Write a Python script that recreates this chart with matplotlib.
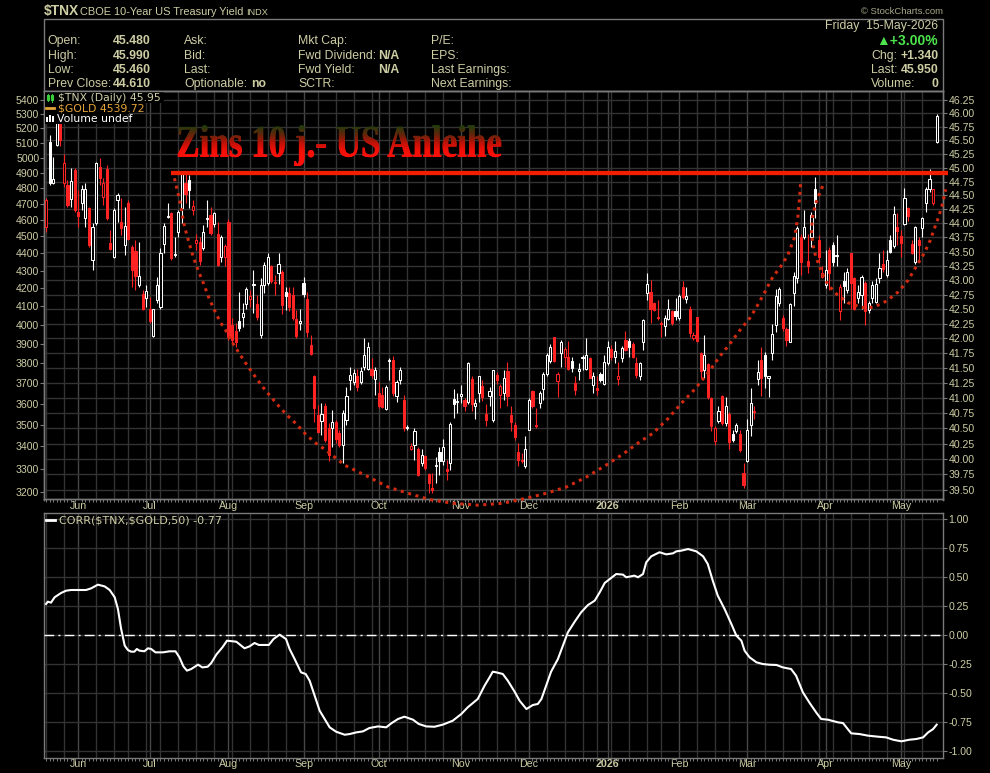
import numpy as np
import pandas as pd
import matplotlib
matplotlib.use("Agg")
import matplotlib.pyplot as plt
from matplotlib.patches import Rectangle, PathPatch
from matplotlib.lines import Line2D
from matplotlib.textpath import TextPath
from matplotlib.font_manager import FontProperties
from matplotlib.transforms import Affine2D
from matplotlib.ticker import NullLocator

plt.rcParams['font.family'] = ['Liberation Sans', 'DejaVu Sans']

# ---------------- data ----------------
holidays = ['2025-05-26', '2025-06-19', '2025-07-04', '2025-09-01', '2025-11-27',
            '2025-12-25', '2026-01-01', '2026-01-19', '2026-02-16', '2026-04-03']

opens = [43.94, 45.48, 44.73, 45.42, 45.82, 44.72, 44.69, 44.43, 44.96, 44.21,
         44.36, 44.09, 44.27, 43.35, 44.00, 45.02, 44.48, 44.98, 43.65, 43.41,
         44.42, 44.03, 43.61, 44.37, 43.58, 43.51, 42.92, 42.76, 42.70, 42.51,
         42.04, 42.66, 42.54, 43.63, 44.11, 44.18, 43.44, 43.85, 44.27, 44.73,
         44.77, 44.23, 43.66, 43.67, 43.56, 44.07, 44.15, 43.98, 43.81, 43.41,
         43.41, 44.02, 42.23, 42.12, 42.30, 42.36, 42.59, 42.67, 42.91, 42.59,
         42.06, 42.92, 42.96, 43.24, 42.95, 43.13, 43.15, 42.80, 42.77, 42.74,
         42.33, 42.26, 42.96, 42.67, 41.89, 41.37, 40.72, 40.62, 40.87, 40.50,
         40.50, 40.60, 40.42, 40.23, 40.63, 41.30, 41.27, 41.36, 41.27, 41.52,
         41.49, 41.49, 41.31, 41.08, 41.05, 40.82, 41.62, 41.64, 41.03, 41.30,
         40.97, 40.50, 40.16, 40.23, 40.17, 39.93, 40.05, 39.76, 39.53, 39.88,
         40.12, 39.96, 39.84, 39.93, 40.98, 40.93, 41.04, 40.97, 40.94, 41.31,
         40.86, 41.09, 41.20, 40.74, 41.03, 40.64, 41.38, 41.05, 41.08, 41.45,
         40.72, 40.56, 40.12, 39.99, 39.88, 40.47, 41.11, 40.56, 40.91, 41.15,
         41.40, 41.62, 42.02, 41.29, 41.75, 41.68, 41.69, 41.62, 41.25, 41.45,
         41.66, 41.49, 41.66, 41.22, 41.16, 41.40, 41.24, 41.58, 41.82, 41.68,
         41.31, 41.66, 41.97, 41.96, 41.91, 41.58, 41.36, 41.93, 42.77, 42.80,
         42.60, 42.37, 42.27, 42.21, 42.33, 42.46, 42.47, 42.34, 42.88, 42.67,
         42.51, 42.00, 42.36, 41.75, 41.47, 41.57, 41.00, 40.30, 40.62, 41.03,
         40.58, 40.74, 40.41, 40.46, 40.41, 39.77, 39.96, 40.55, 40.77, 41.31,
         41.63, 41.72, 41.34, 41.76, 42.23, 42.61, 42.34, 42.16, 41.94, 42.78,
         43.03, 43.76, 43.76, 43.34, 43.76, 44.61, 43.71, 43.05, 42.92, 43.53,
         43.61, 43.42, 42.46, 42.98, 42.83, 43.47, 43.03, 42.69, 42.74, 42.96,
         42.48, 42.69, 42.63, 43.03, 43.29, 43.09, 43.70, 43.60, 43.93, 43.77,
         43.99, 44.27, 43.64, 43.32, 43.70, 43.91, 44.36, 44.61, 44.36, 45.48]

highs = [44.45, 45.60, 45.20, 45.90, 45.88, 45.26, 44.78, 44.99, 44.99, 44.60,
         44.69, 44.72, 44.30, 44.00, 45.11, 45.17, 44.81, 45.05, 43.88, 44.27,
         44.54, 44.45, 44.30, 44.42, 43.61, 43.70, 43.67, 42.83, 42.92, 42.71,
         42.51, 43.06, 43.56, 44.00, 44.36, 44.21, 43.76, 44.24, 44.95, 44.90,
         44.87, 44.42, 43.82, 43.76, 43.97, 44.42, 44.30, 44.21, 44.03, 43.79,
         43.64, 44.07, 42.34, 42.26, 42.80, 42.60, 42.89, 42.83, 43.18, 42.74,
         43.03, 43.32, 43.48, 43.27, 43.09, 43.47, 43.18, 42.89, 42.89, 42.89,
         42.48, 42.51, 43.05, 42.80, 42.06, 41.38, 40.89, 40.91, 40.91, 40.58,
         40.80, 40.64, 40.48, 40.80, 41.19, 41.52, 41.49, 41.49, 41.52, 42.00,
         41.93, 41.66, 41.52, 41.27, 41.19, 41.22, 41.66, 41.70, 41.30, 41.52,
         41.05, 40.55, 40.26, 40.50, 40.20, 40.16, 40.06, 39.78, 39.77, 40.04,
         40.20, 40.32, 39.98, 40.61, 41.15, 41.08, 41.22, 41.00, 41.60, 41.36,
         40.98, 41.37, 41.30, 40.90, 41.19, 41.47, 41.44, 41.24, 41.46, 41.60,
         40.86, 40.60, 40.26, 40.09, 40.37, 41.00, 41.14, 40.83, 41.12, 41.44,
         41.75, 41.91, 42.03, 41.44, 41.98, 41.86, 41.96, 41.69, 41.36, 41.58,
         41.72, 42.00, 41.69, 41.44, 41.36, 41.44, 41.72, 41.96, 41.89, 41.96,
         41.60, 41.87, 42.12, 42.00, 41.94, 41.69, 41.60, 42.33, 43.12, 43.00,
         42.63, 42.66, 42.29, 42.40, 42.68, 42.48, 42.70, 42.76, 42.98, 42.88,
         42.55, 42.10, 42.37, 41.77, 42.06, 41.59, 41.02, 40.53, 40.86, 41.05,
         41.02, 40.76, 40.47, 40.59, 40.47, 39.93, 40.66, 41.16, 40.86, 41.63,
         41.85, 41.77, 41.36, 42.25, 42.84, 42.89, 42.40, 42.19, 42.60, 43.15,
         43.95, 43.82, 44.24, 43.81, 44.21, 44.83, 43.79, 43.25, 43.53, 43.58,
         43.67, 43.79, 42.94, 43.15, 43.21, 43.48, 43.06, 42.92, 43.09, 42.98,
         42.64, 42.98, 43.03, 43.48, 43.53, 43.53, 43.79, 44.31, 44.19, 43.88,
         44.63, 44.30, 43.70, 43.95, 43.76, 44.12, 44.65, 44.97, 44.61, 45.99]

lows = [43.85, 44.69, 44.70, 45.40, 45.39, 44.66, 44.30, 44.30, 44.21, 43.94,
        44.24, 43.94, 43.58, 43.18, 43.97, 44.69, 44.33, 44.06, 43.53, 43.38,
        44.03, 43.79, 43.44, 43.70, 42.89, 42.83, 42.89, 42.48, 42.54, 42.26,
        42.03, 42.60, 42.51, 43.47, 44.09, 43.35, 43.41, 43.76, 44.00, 44.36,
        44.27, 44.15, 43.53, 43.27, 43.53, 43.94, 43.79, 43.94, 43.24, 43.31,
        43.24, 41.97, 41.91, 41.86, 42.12, 42.19, 42.51, 42.54, 42.44, 42.32,
        42.00, 42.77, 42.92, 42.95, 42.74, 42.94, 42.42, 42.48, 42.46, 42.32,
        42.00, 42.14, 42.71, 42.03, 41.72, 40.61, 40.42, 40.39, 40.28, 39.96,
        40.20, 40.26, 40.20, 39.93, 40.56, 41.14, 41.22, 41.11, 41.24, 41.46,
        41.46, 41.33, 41.05, 40.83, 40.83, 40.80, 41.30, 41.03, 40.94, 41.24,
        40.45, 40.48, 40.15, 39.98, 39.72, 39.88, 39.83, 39.45, 39.45, 39.61,
        39.74, 39.91, 39.66, 39.83, 40.67, 40.75, 40.91, 40.78, 40.90, 40.78,
        40.65, 40.94, 40.95, 40.54, 40.86, 40.61, 41.24, 40.83, 40.97, 40.86,
        40.45, 40.31, 39.88, 39.93, 39.85, 40.47, 40.83, 40.50, 40.83, 40.97,
        41.36, 41.58, 41.60, 41.02, 41.52, 41.52, 41.46, 41.44, 41.05, 41.30,
        41.46, 41.46, 41.33, 41.09, 41.05, 41.27, 41.22, 41.55, 41.63, 41.58,
        41.22, 41.60, 41.78, 41.69, 41.66, 41.33, 41.30, 41.80, 42.66, 42.26,
        42.46, 42.32, 42.02, 42.04, 42.31, 42.23, 42.32, 42.32, 42.67, 42.60,
        42.02, 41.98, 41.94, 41.33, 41.34, 40.99, 40.45, 40.23, 40.59, 40.55,
        40.54, 40.16, 40.27, 40.43, 40.12, 39.53, 39.95, 40.38, 40.66, 41.22,
        41.03, 41.16, 41.02, 41.63, 42.10, 42.55, 42.13, 41.87, 41.93, 42.55,
        42.96, 43.09, 43.73, 43.12, 43.58, 44.09, 43.30, 43.03, 42.86, 42.83,
        43.24, 43.24, 42.32, 42.60, 42.78, 42.51, 42.48, 42.60, 42.51, 42.23,
        42.44, 42.60, 42.60, 42.95, 43.15, 43.06, 43.47, 43.56, 43.61, 43.40,
        43.97, 44.05, 43.46, 43.29, 43.32, 43.76, 44.21, 44.57, 44.33, 45.46]

closes = [44.42, 44.72, 44.79, 45.82, 45.51, 45.08, 44.33, 44.76, 44.24, 44.13,
          44.61, 44.62, 43.61, 43.94, 45.09, 44.81, 44.72, 44.09, 43.54, 44.24,
          44.51, 43.91, 43.95, 43.72, 43.18, 43.07, 43.08, 42.50, 42.81, 42.29,
          42.50, 42.92, 43.47, 43.95, 44.13, 43.38, 43.46, 44.21, 44.90, 44.53,
          44.60, 44.31, 43.70, 43.34, 43.85, 44.09, 43.83, 44.18, 43.27, 43.76,
          43.60, 42.03, 41.97, 41.94, 42.17, 42.44, 42.84, 42.73, 42.93, 42.36,
          42.92, 43.27, 43.41, 42.98, 42.97, 43.28, 42.57, 42.73, 42.54, 42.34,
          42.04, 42.29, 42.76, 42.10, 41.73, 40.84, 40.44, 40.74, 40.31, 40.06,
          40.61, 40.32, 40.23, 40.75, 41.04, 41.38, 41.41, 41.19, 41.45, 41.72,
          41.85, 41.38, 41.46, 40.86, 40.85, 41.18, 41.64, 41.09, 41.27, 41.46,
          40.50, 40.52, 40.21, 40.45, 39.74, 40.06, 39.85, 39.62, 39.50, 39.91,
          39.96, 40.19, 39.81, 40.57, 40.90, 40.95, 41.06, 40.87, 41.58, 40.90,
          40.92, 41.36, 41.02, 40.63, 41.11, 41.46, 41.30, 41.20, 41.33, 41.04,
          40.61, 40.35, 39.99, 39.97, 40.17, 40.96, 40.86, 40.53, 41.08, 41.40,
          41.72, 41.85, 41.62, 41.40, 41.93, 41.82, 41.49, 41.50, 41.14, 41.49,
          41.69, 41.72, 41.34, 41.36, 41.14, 41.30, 41.60, 41.85, 41.69, 41.78,
          41.37, 41.83, 41.80, 41.85, 41.69, 41.38, 41.58, 42.31, 42.94, 42.51,
          42.48, 42.34, 42.25, 42.34, 42.50, 42.26, 42.38, 42.73, 42.71, 42.73,
          42.09, 42.06, 41.96, 41.45, 41.72, 41.02, 40.54, 40.50, 40.79, 40.58,
          40.86, 40.27, 40.31, 40.55, 40.15, 39.58, 40.47, 40.92, 40.79, 41.44,
          41.34, 41.36, 41.37, 42.07, 42.73, 42.84, 42.17, 41.98, 42.59, 43.07,
          43.91, 43.32, 43.94, 43.25, 44.15, 44.37, 43.40, 43.13, 43.18, 43.13,
          43.32, 43.44, 42.89, 42.90, 43.15, 42.95, 42.51, 42.80, 43.06, 42.46,
          42.60, 42.92, 42.93, 43.21, 43.19, 43.35, 43.50, 44.17, 43.87, 43.65,
          44.45, 44.13, 43.47, 43.93, 43.61, 44.09, 44.61, 44.79, 44.61, 45.95]
close_before_start = 44.60

# 50-day correlation $TNX vs $GOLD (bar index, value)
corr_day = [0, 0.5, 1.4, 2.4, 4.2, 5.6, 7.0, 11.2, 12.6, 14.5, 16.4, 17.8, 19.2, 20.1, 21.0,
            22.0, 22.9, 23.8, 24.7, 25.4, 26.1, 27.5, 28.5, 29.4, 30.6, 32.7, 34.5, 36.2,
            37.3, 38.4, 39.4, 40.6, 42.5, 43.7, 45.2, 46.2, 47.6, 49.3, 50.6, 53.2, 55.5,
            56.9, 58.3, 59.5, 62.3, 63.6, 65.3, 67.1, 68.1, 69.5, 71.3, 72.6, 73.7, 75.1,
            76.5, 77.9, 79.3, 81.1, 83.5, 84.9, 86.7, 88.6, 90.4, 92.8, 95.1, 96.5, 98.4,
            100.2, 102.6, 104.2, 106.3, 108.6, 110.9, 113.7, 116.1, 117.9, 120.7, 122.6,
            124.0, 124.9, 125.9, 127.7, 129.1, 131.0, 132.4, 134.3, 136.1, 137.5, 138.5,
            139.8, 141.2, 143.1, 144.5, 145.9, 147.8, 149.6, 151.5, 153.4, 154.8, 156.2,
            157.6, 159.4, 161.3, 162.2, 164.5, 165.5, 166.9, 167.8, 169.2, 171.5, 173.4,
            175.3, 176.2, 177.6, 179.5, 181.8, 183.7, 185.0, 186.4, 187.8, 189.7, 191.6,
            193.0, 194.4, 195.3, 196.7, 198.6, 200.4, 202.3, 204.2, 206.0, 208.3, 209.7,
            211.6, 213.5, 215.3, 216.7, 218.6, 221.4, 222.8, 225.1, 227.4, 229.8, 232.6,
            234.9, 236.8, 239.1, 241.4, 243.3, 245.2, 246.6, 248.0, 249.0]
corr_val = [0.268, 0.288, 0.280, 0.326, 0.363, 0.383, 0.389, 0.389, 0.403, 0.435, 0.420,
            0.389, 0.326, 0.225, 0.052, -0.092, -0.130, -0.144, -0.144, -0.121, -0.135,
            -0.141, -0.115, -0.121, -0.150, -0.150, -0.141, -0.141, -0.193, -0.271, -0.308,
            -0.294, -0.256, -0.280, -0.274, -0.242, -0.170, -0.107, -0.049, -0.058, -0.115,
            -0.098, -0.069, -0.086, -0.086, -0.035, 0.003, -0.035, -0.121, -0.207, -0.323,
            -0.337, -0.395, -0.524, -0.654, -0.726, -0.798, -0.836, -0.862, -0.856, -0.842,
            -0.833, -0.804, -0.790, -0.798, -0.764, -0.726, -0.706, -0.732, -0.769, -0.790,
            -0.793, -0.775, -0.741, -0.683, -0.625, -0.553, -0.438, -0.366, -0.317, -0.323,
            -0.337, -0.395, -0.490, -0.568, -0.640, -0.605, -0.596, -0.553, -0.438, -0.317,
            -0.208, -0.092, 0.023, 0.115, 0.196, 0.259, 0.297, 0.369, 0.450, 0.484, 0.527,
            0.522, 0.499, 0.513, 0.499, 0.527, 0.628, 0.680, 0.715, 0.697, 0.706, 0.723,
            0.729, 0.743, 0.723, 0.680, 0.614, 0.470, 0.340, 0.225, 0.095, -0.006, -0.049,
            -0.136, -0.193, -0.236, -0.251, -0.257, -0.259, -0.280, -0.294, -0.352, -0.496,
            -0.588, -0.669, -0.726, -0.732, -0.755, -0.761, -0.850, -0.856, -0.870, -0.879,
            -0.885, -0.905, -0.919, -0.905, -0.899, -0.885, -0.842, -0.813, -0.775]

# hand-drawn annotations (bar index, yield)
resist_start = 35
resist_level = 44.91
big_cup_day = [35.9, 36.9, 37.8, 38.5, 39.0, 40.1, 41.2, 42.6, 44.0, 45.5, 47.1, 48.7, 50.6,
               52.4, 54.3, 56.4, 58.3, 60.5, 62.7, 65.0, 67.3, 70.0, 72.3, 75.1, 78.1, 83.5,
               89.5, 95.6, 101.2, 107.2, 113.8, 120.7, 127.7, 134.3, 139.9, 145.5, 151.1,
               157.1, 161.3, 166.0, 169.7, 173.9, 177.6, 181.3, 185.1, 188.3, 191.1, 194.0,
               196.7, 198.6, 201.0, 203.2, 205.1, 207.4, 209.3, 210.2, 210.7, 211.0]
big_cup_val = [44.81, 44.54, 44.27, 44.01, 43.88, 43.63, 43.40, 43.16, 42.95, 42.70, 42.48,
               42.28, 42.10, 41.90, 41.72, 41.53, 41.37, 41.19, 41.03, 40.87, 40.72, 40.57,
               40.42, 40.27, 40.15, 39.90, 39.73, 39.55, 39.45, 39.35, 39.29, 39.26, 39.29,
               39.37, 39.45, 39.55, 39.71, 39.92, 40.08, 40.28, 40.42, 40.66, 40.91, 41.14,
               41.42, 41.69, 41.90, 42.14, 42.34, 42.53, 42.80, 43.06, 43.21, 43.44, 43.76,
               44.12, 44.48, 44.76]
small_cup_day = [217.1, 216.3, 215.2, 214.3, 214.0, 214.3, 215.2, 216.8, 218.6, 221.0, 224.2,
                 228.0, 231.3, 235.0, 238.3, 241.0, 243.3, 245.2, 246.9, 248.2, 249.4, 250.3,
                 250.9, 251.5]
small_cup_val = [44.67, 44.54, 44.36, 44.12, 43.88, 43.65, 43.41, 43.15, 42.92, 42.76, 42.61,
                 42.53, 42.53, 42.64, 42.80, 43.00, 43.24, 43.44, 43.65, 43.88, 44.09, 44.27,
                 44.42, 44.61]

month_labels = ['Jun', 'Jul', 'Aug', 'Sep', 'Oct', 'Nov', 'Dec', '2026', 'Feb', 'Mar', 'Apr', 'May']
gold_ticks = list(range(3200, 5500, 100))
tnx_ticks = [39.50 + 0.25 * k for k in range(28)]
corr_ticks = [-1.0, -0.75, -0.5, -0.25, 0.0, 0.25, 0.5, 0.75, 1.0]

header_labels = [['Open:', 'High:', 'Low:', 'Prev Close:'],
                 ['Ask:', 'Bid:', 'Last:', 'Optionable:'],
                 ['Mkt Cap:', 'Fwd Dividend:', 'Fwd Yield:', 'SCTR:'],
                 ['P/E:', 'EPS:', 'Last Earnings:', 'Next Earnings:']]
header_values = ['45.480', '45.990', '45.460', '44.610']

# ---------------- styling ----------------
W, H = 990, 773
KHAKI = '#cdcda4'
GRID = '#333333'
GRID_M = '#474747'
FRAME = '#7a7a7a'
RED = '#ff2323'

fig = plt.figure(figsize=(W / 100, H / 100), dpi=100, facecolor='black')


def rect(x0, y0, x1, y1):
    return [x0 / W, 1 - y1 / H, (x1 - x0) / W, (y1 - y0) / H]


def ftext(px, py, s, **kw):
    kw.setdefault('color', KHAKI)
    kw.setdefault('va', 'center')
    return fig.text(px / W, 1 - py / H, s, **kw)


days = pd.bdate_range('2025-05-19', '2026-05-15')
days = days[~days.isin(pd.to_datetime(holidays))]
n = len(closes)
xi = np.arange(n)
wk = days.to_period('W')
week_start = [i for i in range(n) if i == 0 or wk[i] != wk[i - 1]]
month_start = [i for i in range(1, n) if days[i].month != days[i - 1].month]
XL = (-0.48, 250.85)

ax = fig.add_axes(rect(44.3, 91, 943.3, 499.5))
ax.set_facecolor('black')
ax2 = ax.twinx()
ax3 = fig.add_axes(rect(44.3, 513.3, 943.3, 757.7))
ax3.set_facecolor('black')

for a in (ax, ax2, ax3):
    for sp in a.spines.values():
        sp.set_color(FRAME)
        sp.set_linewidth(1)

# vertical grid (weeks + month starts)
for a in (ax2, ax3):
    for i in sorted(set(week_start) | set(month_start)):
        a.axvline(i, color=GRID_M if i in month_start else GRID, lw=1, zorder=0.5)

# left axis: gold scale (labels only)
ax.set_yscale('log')
ax.set_ylim(3166.8, 5465.3)
ax.set_yticks(gold_ticks, labels=[str(g) for g in gold_ticks])
ax.yaxis.set_minor_locator(NullLocator())
ax.tick_params(axis='y', which='major', direction='out', length=3, width=0.8, color=FRAME,
               labelcolor=KHAKI, labelsize=7.6, pad=0.6)

# right axis: $TNX
ax2.set_yscale('log')
ax2.set_ylim(39.35, 46.42)
ax2.set_yticks(tnx_ticks, labels=[f'{t:.2f}' for t in tnx_ticks])
ax2.yaxis.set_minor_locator(NullLocator())
ax2.tick_params(axis='y', which='major', direction='out', length=3, width=0.8, color=FRAME,
                labelcolor=KHAKI, labelsize=7.6, pad=0.6)
ax2.grid(axis='y', color=GRID, lw=1)
ax2.set_axisbelow(True)

# x axes
for a in (ax, ax3):
    a.set_xlim(*XL)
    a.set_xticks(month_start, labels=month_labels)
    a.set_xticks(xi, minor=True)
    a.tick_params(axis='x', which='major', length=0, pad=1.2, labelsize=7.7, labelcolor=KHAKI)
    a.tick_params(axis='x', which='minor', length=2, width=0.7, color=FRAME, direction='out')
    for t in a.get_xticklabels():
        if t.get_text() == '2026':
            t.set_fontweight('bold')

# candles
o, h, l, c = (np.array(v) for v in (opens, highs, lows, closes))
prev = np.r_[close_before_start, c[:-1]]
col = np.where(c < prev, RED, 'white')
face = np.where(c > o, 'black', col)
bot = np.minimum(o, c)
hgt = np.maximum(np.maximum(o, c) - bot, 0.012)
ax2.vlines(xi, l, h, colors=col, lw=0.8, zorder=3)
ax2.bar(xi, hgt, bottom=bot, width=0.6, color=face, edgecolor=col, linewidth=0.75, zorder=4)

# annotations
ax2.hlines(resist_level, resist_start, XL[1] + 1.3, color='#f21e00', lw=3.1, zorder=5,
           clip_on=False)
for dx, dv in ((big_cup_day, big_cup_val), (small_cup_day, small_cup_val)):
    ax2.plot(dx, dv, color='#d02a10', lw=2.2, linestyle=(0, (1, 1.5)),
             dash_capstyle='butt', clip_on=False, zorder=6)
ax2.set_xlim(*XL)

# lower panel: correlation
ax3.set_ylim(-1.0605, 1.0519)
ax3.yaxis.tick_right()
ax3.set_yticks(corr_ticks, labels=[f'{t:.2f}' for t in corr_ticks])
ax3.tick_params(axis='y', direction='out', length=3, width=0.8, color=FRAME,
                labelcolor=KHAKI, labelsize=7.6, pad=0.6)
ax3.grid(axis='y', color=GRID, lw=1)
ax3.set_axisbelow(True)
ax3.axhline(0, color='white', lw=1.0, dashes=(7, 3, 1.5, 3), zorder=3)
ax3.plot(corr_day, corr_val, color='white', lw=1.5, zorder=4)

# header box
fig.add_artist(Rectangle((44.3 / W, 1 - 91 / H), 899 / W, 71.7 / H, transform=fig.transFigure,
                         fill=False, edgecolor=FRAME, lw=1))
ftext(43.5, 11.5, r'\$TNX', fontsize=10, fontweight='bold')
ftext(80, 11.8, 'CBOE 10-Year US Treasury Yield', fontsize=7.9)
ftext(246.5, 12.3, 'INDX', fontsize=6.6)
ftext(943.3, 11.5, '\u00a9 StockCharts.com', fontsize=6.8, color='#a8a888', ha='right')

row_y = [41, 55.7, 70, 84.3]
col_x = [47.7, 184.3, 298.3, 430.7]
for cx, labs in zip(col_x, header_labels):
    for ry, s in zip(row_y, labs):
        ftext(cx, ry, s, fontsize=8.8)
for ry, s in zip(row_y, header_values):
    ftext(112.7, ry, s, fontsize=8.8, fontweight='bold')
ftext(377.7, row_y[1], 'N/A', fontsize=8.8, fontweight='bold')
ftext(377.7, row_y[2], 'N/A', fontsize=8.8, fontweight='bold')
ftext(250.7, row_y[3], 'no', fontsize=8.8, fontweight='bold')

RX = 938.3
ftext(RX, 26, 'Friday  15-May-2026', fontsize=8.8, ha='right')
ftext(RX, 41, '\u25b2+3.00%', fontsize=10, fontweight='bold', color='#4ee44e', ha='right')
ftext(897.5, 55.7, 'Chg:', fontsize=8.8, ha='right')
ftext(RX, 55.7, '+1.340', fontsize=8.8, fontweight='bold', ha='right')
ftext(897.5, 70, 'Last:', fontsize=8.8, ha='right')
ftext(RX, 70, '45.950', fontsize=8.8, fontweight='bold', ha='right')
ftext(870.7, 84.3, 'Volume:', fontsize=8.8)
ftext(RX, 84.3, '0', fontsize=8.8, fontweight='bold', ha='right')

# overlay (pixel coordinates) for legend boxes, icons and the gradient title
ov = fig.add_axes([0, 0, 1, 1])
ov.patch.set_visible(False)
ov.axis('off')
for bx in ((44.8, 91.8, 164, 103), (44.8, 103, 128.5, 113.6), (44.8, 113.6, 121.5, 124.4)):
    ov.add_patch(Rectangle((bx[0], bx[1]), bx[2] - bx[0], bx[3] - bx[1], facecolor='black',
                           edgecolor='none', zorder=1))
# $TNX icon
for ix, top, bt in ((46.5, 94.5, 99.5), (51.0, 95.0, 100.0)):
    ov.add_patch(Rectangle((ix, top), 2.2, bt - top, fill=False, edgecolor='#3ccf3c', lw=0.8, zorder=2))
ov.add_line(Line2D([47.6, 47.6], [93.5, 101], color='#3ccf3c', lw=0.7, zorder=2))
ov.add_line(Line2D([52.1, 52.1], [94, 101.5], color='#3ccf3c', lw=0.7, zorder=2))
ov.add_line(Line2D([46.2, 53.5], [108.3, 108.3], color='#e4a43a', lw=2, zorder=2))
for bx, top in ((46.2, 117.2), (49.2, 115.4), (52.2, 116.2)):
    ov.add_patch(Rectangle((bx, top), 2.0, 122.4 - top, facecolor='white', edgecolor='none', zorder=2))
ov.add_line(Line2D([46.2, 54.6], [520.4, 520.4], color='white', lw=2, zorder=2))

ftext(58.3, 97.6, r'\$TNX (Daily) 45.95', fontsize=7.85, family='DejaVu Sans')
ftext(58.3, 108.4, r'\$GOLD 4539.72', fontsize=7.85, family='DejaVu Sans', color='#e4a43a')
ftext(57.0, 119.2, 'Volume undef', fontsize=7.85, family='DejaVu Sans', color='white')
ftext(58.7, 520.6, r'CORR(\$TNX,\$GOLD,50) -0.77', fontsize=8.0, family='DejaVu Sans')

# gradient "Zins 10 j.- US Anleihe" (slightly emboldened by offset copies)
fp = FontProperties(family='Liberation Serif', weight='bold')
tp = TextPath((0, 0), 'Zins 10 j.- US Anleihe', size=45.3, prop=fp)
ext = tp.get_extents()
sx = (501 - 178) / ext.width
stop_y = [126, 135, 143, 150, 158]
stop_rgb = [(0.13, 0.24, 0.05), (0.40, 0.14, 0.04), (0.75, 0.07, 0.03), (0.94, 0.06, 0.03),
            (1.0, 0.06, 0.04)]
rows = np.linspace(120, 166, 140)
grad = np.stack([np.interp(rows, stop_y, [s[k] for s in stop_rgb]) for k in range(3)], axis=-1)
for shift in (-0.45, 0.0, 0.45):
    path = Affine2D().translate(-ext.x0, 0).scale(sx, -1).translate(178 + shift, 156.7).transform_path(tp)
    clip = PathPatch(path, facecolor='none', edgecolor='none', transform=ov.transData)
    ov.add_patch(clip)
    im = ov.imshow(grad[:, None, :], extent=(170, 510, 166, 120), aspect='auto',
                   interpolation='bilinear', zorder=3)
    im.set_clip_path(clip)
ov.set_xlim(0, W)
ov.set_ylim(H, 0)

fig.savefig('out.png', dpi=100, facecolor='black')
